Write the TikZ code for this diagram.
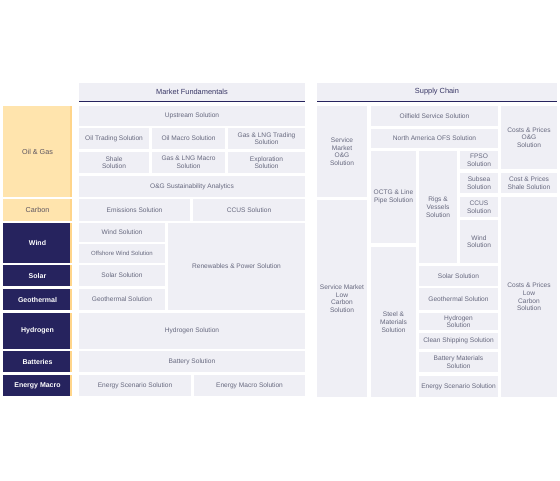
\documentclass[tikz,border=0pt]{standalone}
\usepackage{fontspec}
\setmainfont{Liberation Sans}
\definecolor{cellbg}{HTML}{EFEFF5}
\definecolor{celltxt}{HTML}{66687E}
\definecolor{navy}{HTML}{26235E}
\definecolor{orangebg}{HTML}{FFE4AD}
\definecolor{orangestrip}{HTML}{FFD58A}
\definecolor{orangetxt}{HTML}{5E5660}
\tikzset{
  x=1pt, y=-1pt,
  cell/.style={fill=cellbg, draw=none, inner sep=0pt, outer sep=0pt, align=center, text=celltxt,
    font=\fontsize{6.6}{7.7}\selectfont},
  smallcell/.style={font=\fontsize{6.0}{7.2}\selectfont},
  navycat/.style={fill=navy, text=white, font=\fontsize{7}{8}\selectfont\bfseries},
  orangecat/.style={fill=orangebg, text=orangetxt, font=\fontsize{7.2}{8}\selectfont},
  headcell/.style={font=\fontsize{7.4}{8.5}\selectfont, text=navy!80!gray},
  strip/.style={fill=orangestrip},
  headline/.style={draw=navy, line width=1pt},
}
\newcommand\cell[7][]{\node[cell,#1,minimum width={#5-#3}, minimum height={#6-#4}] (#2) at ({(#3+#5)/2},{(#4+#6)/2}) {#7};}
\newcommand\catstrip[1]{\fill[strip] (#1.north east) ++(-2,0) rectangle (#1.south east);}
\begin{document}
\begin{tikzpicture}
\fill[white] (0,0) rectangle (560,480);
\useasboundingbox (0,0) rectangle (560,480);
% headers
\cell[headcell]{mf}{79}{83}{305}{101}{Market Fundamentals}
\cell[headcell]{sc}{317}{83}{557}{101}{Supply Chain}
\draw[headline] (mf.south west) -- (mf.south east);
\draw[headline] (sc.south west) -- (sc.south east);
% categories
\cell[orangecat]{og}{3}{106}{72}{197}{Oil \& Gas}
\cell[orangecat]{carbon}{3}{199}{72}{221}{Carbon}
\cell[navycat]{wind}{3}{223}{72}{263}{Wind}
\cell[navycat]{solar}{3}{265}{72}{286}{Solar}
\cell[navycat]{geo}{3}{289}{72}{310}{Geothermal}
\cell[navycat]{htwo}{3}{313}{72}{349}{Hydrogen}
\cell[navycat]{batt}{3}{351}{72}{372}{Batteries}
\cell[navycat]{emacro}{3}{375}{72}{396}{Energy Macro}
\catstrip{og}\catstrip{carbon}\catstrip{wind}\catstrip{solar}
\catstrip{geo}\catstrip{htwo}\catstrip{batt}\catstrip{emacro}
% market fundamentals
\cell{upstream}{79}{106}{305}{126}{Upstream Solution}
\cell{oiltrade}{79}{128}{149}{149}{Oil Trading Solution}
\cell{oilmacro}{152}{128}{225}{149}{Oil Macro Solution}
\cell{gastrade}{228}{128}{305}{149}{Gas \& LNG Trading\\Solution}
\cell{shale}{79}{152}{149}{173}{Shale\\Solution}
\cell{gasmacro}{152}{152}{225}{173}{Gas \& LNG Macro\\Solution}
\cell{explor}{228}{152}{305}{173}{Exploration\\Solution}
\cell{ogsust}{79}{176}{305}{197}{O\&G Sustainability Analytics}
\cell{emis}{79}{199}{190}{221}{Emissions Solution}
\cell{ccus}{193}{199}{305}{221}{CCUS Solution}
\cell{windsol}{79}{223}{165}{242}{Wind Solution}
\cell[smallcell]{offwind}{79}{244}{165}{263}{Offshore Wind Solution}
\cell{renew}{168}{223}{305}{310}{Renewables \& Power Solution}
\cell{solarsol}{79}{265}{165}{286}{Solar Solution}
\cell{geosol}{79}{289}{165}{310}{Geothermal Solution}
\cell{htwosol}{79}{313}{305}{349}{Hydrogen Solution}
\cell{battsol}{79}{351}{305}{372}{Battery Solution}
\cell{enscen}{79}{375}{191}{396}{Energy Scenario Solution}
\cell{enmacro}{194}{375}{305}{396}{Energy Macro Solution}
% supply chain
\cell{smog}{317}{106}{367}{197}{Service\\Market\\O\&G\\Solution}
\cell{smlc}{317}{200}{367}{397}{Service Market\\Low\\Carbon\\Solution}
\cell{ofs}{371}{106}{498}{126}{Oilfield Service Solution}
\cell{naofs}{371}{129}{498}{148}{North America OFS Solution}
\cell{octg}{371}{151}{416}{243}{OCTG \& Line\\Pipe Solution}
\cell{steel}{371}{247}{416}{397}{Steel \&\\Materials\\Solution}
\cell{rigs}{419}{151}{457}{263}{Rigs \&\\Vessels\\Solution}
\cell{fpso}{460}{151}{498}{169}{FPSO\\Solution}
\cell{subsea}{460}{173}{498}{193}{Subsea\\Solution}
\cell{ccustwo}{460}{197}{498}{217}{CCUS\\Solution}
\cell{windtwo}{460}{220}{498}{263}{Wind\\Solution}
\cell{solartwo}{419}{266}{498}{286}{Solar Solution}
\cell{geotwo}{419}{288}{498}{310}{Geothermal Solution}
\cell{htwotwo}{419}{313}{498}{330}{Hydrogen\\Solution}
\cell{ship}{419}{333}{498}{349}{Clean Shipping Solution}
\cell{battmat}{419}{352}{498}{372}{Battery Materials\\Solution}
\cell{enscentwo}{419}{376}{498}{397}{Energy Scenario Solution}
\cell{cpog}{501}{106}{557}{169}{Costs \& Prices\\O\&G\\Solution}
\cell{cpshale}{501}{173}{557}{193}{Cost \& Prices\\Shale Solution}
\cell{cplc}{501}{197}{557}{397}{Costs \& Prices\\Low\\Carbon\\Solution}
\end{tikzpicture}
\end{document}
